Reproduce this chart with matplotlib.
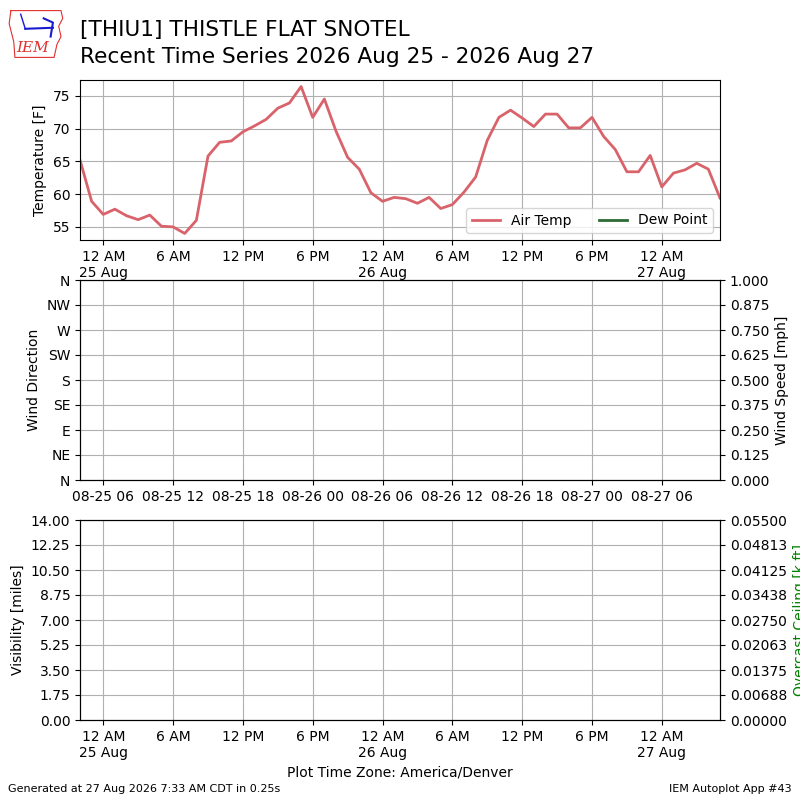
import datetime
import numpy as np
import matplotlib
matplotlib.use("Agg")
import matplotlib.pyplot as plt
import matplotlib.dates as mdates
from matplotlib.ticker import FixedLocator

# hourly obs, local time (America/Denver), 24 Aug 22:00 -> 27 Aug 05:00
start = datetime.datetime(2026, 8, 24, 22, 0)
air_temp = [65.2, 58.9,
            56.9, 57.7, 56.7, 56.1, 56.8, 55.1, 55.0, 54.0, 56.0, 65.8, 67.9, 68.1,
            69.5, 70.4, 71.4, 73.1, 73.9, 76.4, 71.7, 74.5, 69.6, 65.6, 63.8, 60.2,
            58.9, 59.5, 59.3, 58.6, 59.5, 57.8, 58.4, 60.3, 62.6, 68.2, 71.7, 72.8,
            71.6, 70.3, 72.2, 72.2, 70.1, 70.1, 71.7, 68.8, 66.8, 63.4, 63.4, 65.9,
            61.1, 63.2, 63.7, 64.7, 63.8, 59.4]
times = [start + datetime.timedelta(hours=i) for i in range(len(air_temp))]

temp_ticks = [55, 60, 65, 70, 75]
dir_ticks = [0, 45, 90, 135, 180, 225, 270, 315, 360]
dir_labels = ["N", "NE", "E", "SE", "S", "SW", "W", "NW", "N"]
speed_ticks = [0, 0.125, 0.25, 0.375, 0.5, 0.625, 0.75, 0.875, 1.0]
vis_ticks = [0, 1.75, 3.5, 5.25, 7.0, 8.75, 10.5, 12.25, 14.0]
ceil_ticks = [0, 0.006875, 0.01375, 0.020625, 0.0275, 0.034375, 0.04125, 0.048125, 0.055]
ceil_labels = ["0.00000", "0.00688", "0.01375", "0.02063", "0.02750",
               "0.03438", "0.04125", "0.04813", "0.05500"]

# x ticks every 6 hours from local midnight
xticks = [datetime.datetime(2026, 8, 25) + datetime.timedelta(hours=6 * i) for i in range(10)]
utc_offset = datetime.timedelta(hours=6)


def local_label(x, pos=None):
    d = mdates.num2date(x).replace(tzinfo=None)
    s = d.strftime("%I %p").lstrip("0")
    if d.hour == 0:
        s += "\n" + d.strftime("%d Aug")
    return s


def utc_label(x, pos=None):
    d = mdates.num2date(x).replace(tzinfo=None) + utc_offset
    return d.strftime("%m-%d %H")


fig = plt.figure(figsize=(8, 8), dpi=100)

ax1 = fig.add_axes([0.1, 0.7, 0.8, 0.2])
ax1.plot(times, air_temp, color="#d9636b", lw=2, label="Air Temp")
ax1.plot([], [], color="#2e6b35", lw=2, label="Dew Point")
ax1.set_xlim(times[0], times[-1])
ax1.set_ylim(min(air_temp) - 1, max(air_temp) + 1)
ax1.set_yticks(temp_ticks)
ax1.set_ylabel("Temperature [F]")
ax1.xaxis.set_major_locator(FixedLocator(mdates.date2num(xticks)))
ax1.xaxis.set_major_formatter(plt.FuncFormatter(local_label))
ax1.grid(True)
ax1.legend(loc="lower right", ncol=2)

ax2 = fig.add_axes([0.1, 0.4, 0.8, 0.25])
ax2.set_xlim(times[0], times[-1])
ax2.set_ylim(0, 360)
ax2.set_yticks(dir_ticks)
ax2.set_yticklabels(dir_labels)
ax2.set_ylabel("Wind Direction")
ax2.xaxis.set_major_locator(FixedLocator(mdates.date2num(xticks)))
ax2.xaxis.set_major_formatter(plt.FuncFormatter(utc_label))
ax2.grid(True)
ax2b = ax2.twinx()
ax2b.set_ylim(0, 1)
ax2b.set_yticks(speed_ticks)
ax2b.set_yticklabels(["%.3f" % v for v in speed_ticks])
ax2b.set_ylabel("Wind Speed [mph]")

ax3 = fig.add_axes([0.1, 0.1, 0.8, 0.25])
ax3.set_xlim(times[0], times[-1])
ax3.set_ylim(0, 14)
ax3.set_yticks(vis_ticks)
ax3.set_yticklabels(["%.2f" % v for v in vis_ticks])
ax3.set_ylabel("Visibility [miles]")
ax3.xaxis.set_major_locator(FixedLocator(mdates.date2num(xticks)))
ax3.xaxis.set_major_formatter(plt.FuncFormatter(local_label))
ax3.grid(True)
ax3.set_xlabel("Plot Time Zone: America/Denver")
ax3b = ax3.twinx()
ax3b.set_ylim(0, 0.055)
ax3b.set_yticks(ceil_ticks)
ax3b.set_yticklabels(ceil_labels)
ax3b.set_ylabel("Overcast Ceiling [k ft]", color="green")

# titles
fig.text(0.1, 0.9625, "[THIU1] THISTLE FLAT SNOTEL", fontsize=15.6, va="center")
fig.text(0.1, 0.929, "Recent Time Series 2026 Aug 25 - 2026 Aug 27", fontsize=15.6, va="center")

# rough IEM logo
logo = fig.add_axes([0.01, 0.925, 0.072, 0.065])
logo.plot([0.05, 0.92, 0.95, 0.88, 0.92, 0.85, 0.8, 0.12, 0.1, 0.02, 0.05],
          [0.95, 0.95, 0.8, 0.65, 0.45, 0.3, 0.05, 0.05, 0.35, 0.7, 0.95],
          color="#e03030", lw=0.8)
logo.plot([0.3, 0.78], [0.6, 0.62], color="#1a1ad0", lw=1.5)
logo.plot([0.3, 0.22], [0.6, 0.88], color="#1a1ad0", lw=1)
logo.plot([0.62, 0.78, 0.74], [0.8, 0.72, 0.45], color="#1a1ad0", lw=1.5)
logo.text(0.42, 0.24, "IEM", color="#e03030", fontsize=11, family="DejaVu Serif",
          style="italic", ha="center", va="center")
logo.set_xlim(0, 1)
logo.set_ylim(0, 1)
logo.axis("off")

fig.text(0.01, 0.01, "Generated at 27 Aug 2026 7:33 AM CDT in 0.25s", fontsize=8)
fig.text(0.99, 0.01, "IEM Autoplot App #43", fontsize=8, ha="right")

fig.savefig("out.png", dpi=100)
